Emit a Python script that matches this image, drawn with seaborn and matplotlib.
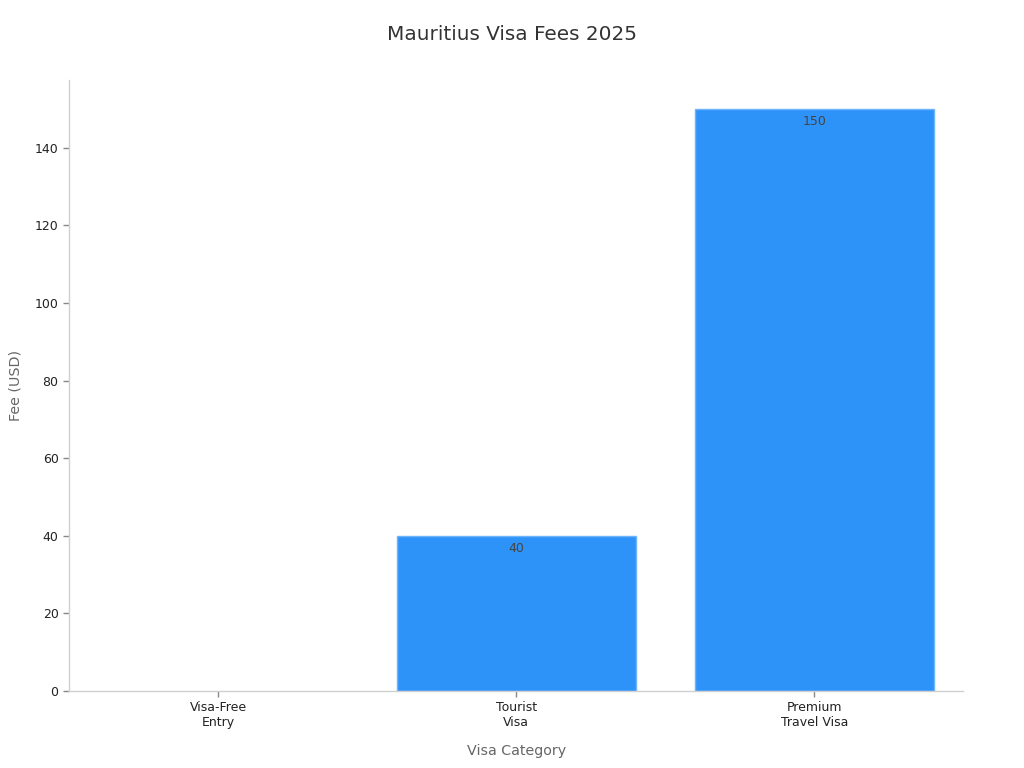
import matplotlib
matplotlib.use("Agg")
import matplotlib.pyplot as plt
import seaborn as sns
import pandas as pd

categories = ["Visa-Free\nEntry", "Tourist\nVisa", "Premium\nTravel Visa"]
fees = [0, 40, 150]

sns.set_theme(style="white")
plt.rcParams['font.family'] = ['DejaVu Sans']

df = pd.DataFrame({"cat": categories, "fee": fees})

fig = plt.figure(figsize=(10.24, 7.68), dpi=100)
ax = fig.add_axes([0.0674, 0.1003, 0.8735, 0.7955])

sns.barplot(data=df, x="cat", y="fee", color="#2E93F9", saturation=1, width=0.8,
            edgecolor="#6CB4FB", linewidth=1, ax=ax)

# hide outline of zero-height bars
for p in ax.patches:
    if p.get_height() == 0:
        p.set_linewidth(0)

for i, v in enumerate(fees):
    if v > 0:
        ax.text(i, v - 1.5, str(v), ha="center", va="top", fontsize=9, color="#444444")

ax.set_xlim(-0.5, 2.5)
ax.set_ylim(0, 157.5)
ax.set_yticks([0, 20, 40, 60, 80, 100, 120, 140])

for s in ["top", "right"]:
    ax.spines[s].set_visible(False)
for s in ["left", "bottom"]:
    ax.spines[s].set_color("#d0d0d0")
    ax.spines[s].set_linewidth(1)

ax.tick_params(axis="both", which="both", length=4, width=1, color="#888888",
               labelsize=9, labelcolor="#222222", left=True, bottom=True)

ax.set_xlabel("Visa Category", fontsize=10.3, color="#666666", labelpad=10.5)
ax.set_ylabel("Fee (USD)", fontsize=10.3, color="#666666", labelpad=9)
fig.suptitle("Mauritius Visa Fees 2025", fontsize=14.4, color="#333333", y=0.967)

fig.savefig("out.png", dpi=100)
